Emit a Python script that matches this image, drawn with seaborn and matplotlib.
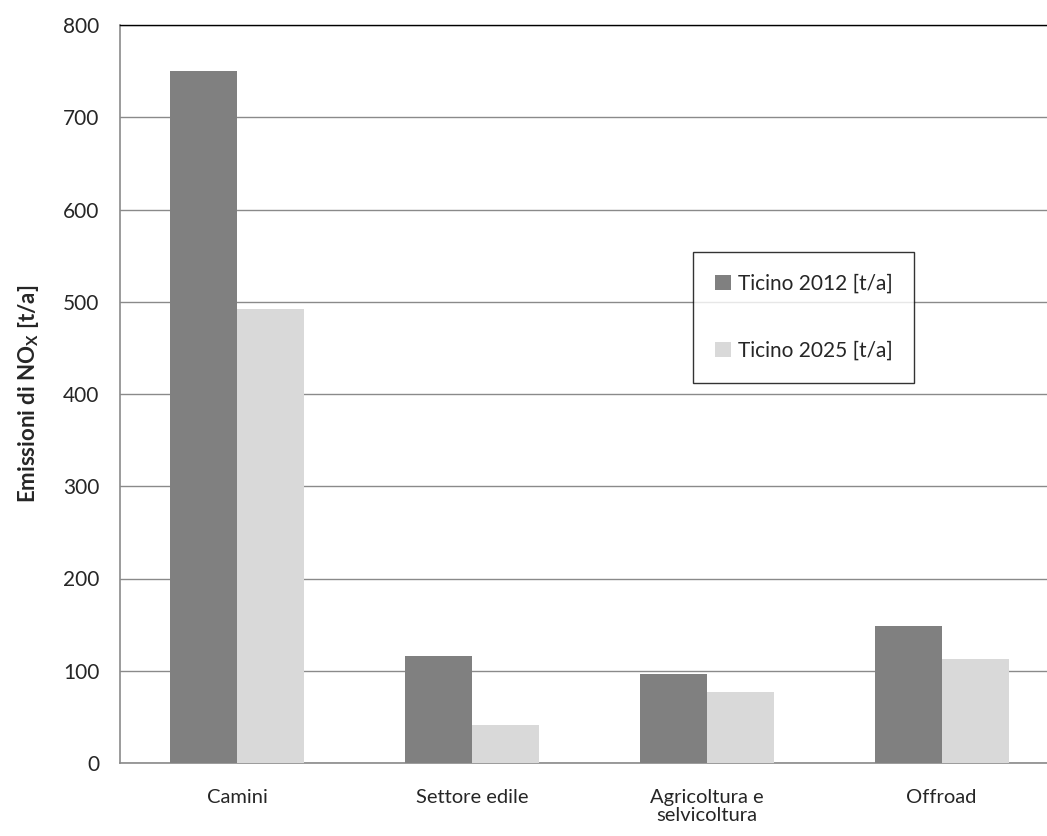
import matplotlib
matplotlib.use("Agg")
import matplotlib.pyplot as plt
import seaborn as sns
import pandas as pd

categories = ["Camini", "Settore edile", "Agricoltura e\nselvicoltura", "Offroad"]
series_names = ["Ticino 2012 [t/a]", "Ticino 2025 [t/a]"]
values_2012 = [750, 116, 97, 149]
values_2025 = [492, 41, 77, 113]
y_ticks = [0, 100, 200, 300, 400, 500, 600, 700, 800]

df = pd.DataFrame({
    "cat": categories * 2,
    "serie": [series_names[0]] * 4 + [series_names[1]] * 4,
    "val": values_2012 + values_2025,
})

sns.set_theme(style="white")
plt.rcParams["font.family"] = ["Lato", "DejaVu Sans"]

fig = plt.figure(figsize=(10.47, 8.36), dpi=100)
ax_w = 939
ax = fig.add_axes([120 / 1047, 1 - 763 / 836, ax_w / 1047, 738 / 836])

sns.barplot(data=df, x="cat", y="val", hue="serie", order=categories,
            hue_order=series_names, palette=["#808080", "#d9d9d9"],
            width=0.57, saturation=1, ax=ax, zorder=3, linewidth=0)

ax.set_ylim(0, 800)
ax.set_xlim(-0.5, 3.5)
ax.set_yticks(y_ticks)
ax.set_yticklabels([str(v) for v in y_ticks], fontsize=15)
ax.yaxis.grid(True, color="#8a8a8a", linewidth=1, zorder=0)
ax.set_axisbelow(True)

ax.set_xticks([-0.5, 0.5, 1.5, 2.5, 3.5])
ax.set_xticklabels([])
ax.set_xticks(range(4), minor=True)
ax.set_xticklabels(categories, minor=True, fontsize=14.5, linespacing=1.05)
ax.tick_params(axis="x", which="minor", length=0, pad=19)
ax.tick_params(axis="x", which="major", length=7, color="#8a8a8a", width=1, direction="out")
ax.tick_params(axis="y", length=7, color="#8a8a8a", width=1, direction="out", pad=8)

for s in ["left", "bottom"]:
    ax.spines[s].set_color("#8a8a8a")
    ax.spines[s].set_linewidth(1.2)
ax.spines["right"].set_visible(False)
ax.spines["top"].set_color("black")
ax.spines["top"].set_linewidth(1)

ax.set_xlabel("")
ax.set_ylabel("Emissioni di NO$_\\mathregular{X}$ [t/a]", fontsize=16, fontweight="bold", labelpad=16)

leg = ax.legend(loc="upper left", bbox_to_anchor=((693 - 120) / ax_w, (763 - 252) / 738),
                fontsize=15, frameon=True, fancybox=False, edgecolor="black",
                handlelength=0.75, handleheight=0.75, handletextpad=0.35,
                labelspacing=2.25, borderpad=1.05, borderaxespad=0)
leg.get_frame().set_linewidth(1)

fig.savefig("out.png", dpi=100, facecolor="white")
